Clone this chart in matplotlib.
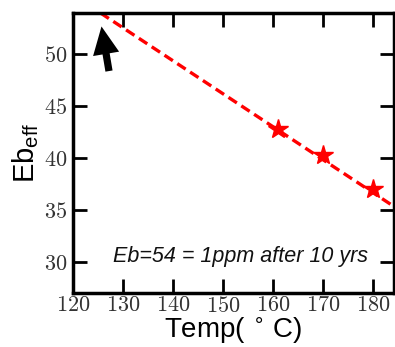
import matplotlib
matplotlib.use('Agg')
import matplotlib.pyplot as plt

# measured points
temp = [161, 170, 180]
eb_eff = [42.8, 40.3, 37.0]

# extrapolated fit line
fit_temp = [125.5, 190.0]
fit_eb = [54.0, 33.5]

xticks = [120, 130, 140, 150, 160, 170, 180]
yticks = [30, 35, 40, 45, 50]

plt.rcParams['axes.formatter.use_mathtext'] = True
plt.rcParams['mathtext.fontset'] = 'dejavusans'

fig = plt.figure(figsize=(3.95, 3.47), dpi=100)
ax = fig.add_axes([0.1848, 0.1556, 0.8125, 0.807])

ax.plot(fit_temp, fit_eb, color='red', ls=(0, (3.0, 1.6)), lw=2.4)
ax.plot(temp, eb_eff, ls='none', marker='*', color='red', ms=15)

ax.annotate('', xy=(125.7, 52.7), xytext=(127.2, 48.4),
            arrowprops=dict(arrowstyle='simple,head_width=0.95,head_length=1.0,tail_width=0.26',
                            mutation_scale=20, shrinkA=0, shrinkB=0,
                            fc='black', ec='none', lw=0))

ax.text(128, 30, 'Eb=54 = 1ppm after 10 yrs', fontsize=15.5, style='italic',
        family='Liberation Sans', color='#111111', ha='left', va='baseline')

ax.set_xlim(120, 184.2)
ax.set_ylim(27, 54)
ax.set_xticks(xticks)
ax.set_yticks(yticks)
ax.tick_params(direction='in', length=10, width=2, top=True, right=True,
               labelsize=16, pad=4)
ax.tick_params(axis='x', pad=2)
for lab in ax.get_xticklabels() + ax.get_yticklabels():
    lab.set_family('cmr10')
    lab.set_color('#333333')
for s in ax.spines.values():
    s.set_linewidth(2.5)

ax.set_xlabel('Temp( $^{\\circ}$ C)', fontsize=20, family='Liberation Sans', labelpad=0)
ax.set_ylabel('Eb$_{\\mathregular{eff}}$', fontsize=21, family='Liberation Sans', labelpad=2)

fig.savefig('out.png', dpi=100)
